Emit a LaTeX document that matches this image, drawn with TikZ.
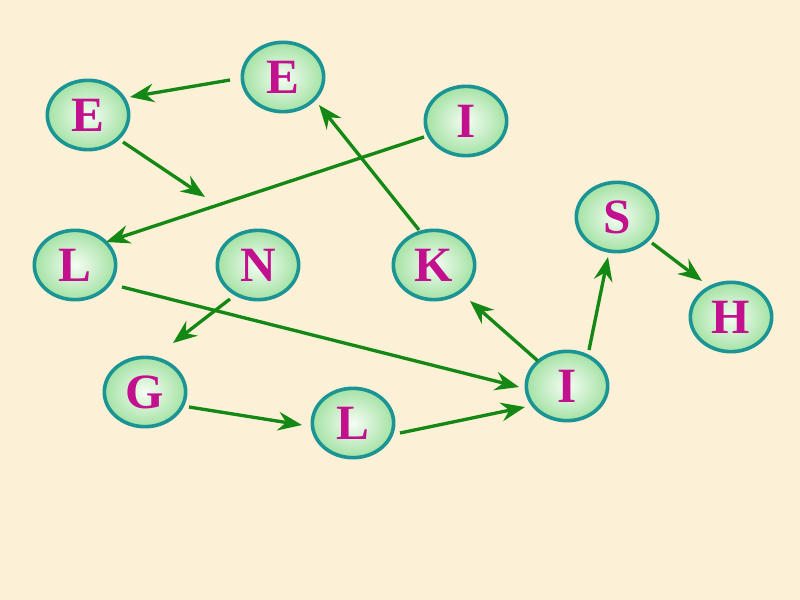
\documentclass[tikz,border=0pt]{standalone}
\usepackage{fontspec}
\setmainfont{Liberation Serif}
\usetikzlibrary{arrows.meta,calc,shapes.geometric}
\definecolor{bgcream}{HTML}{FCF0D6}
\definecolor{arrgreen}{HTML}{148814}
\definecolor{rimteal}{HTML}{1A9494}
\definecolor{lettermag}{HTML}{C2108E}
\definecolor{fillgreen}{HTML}{A4E2A4}
\definecolor{fillwhite}{HTML}{F6FDF4}
\tikzset{
  letternode/.style={ellipse, draw=rimteal, line width=2.7pt,
    inner color=fillwhite, outer color=fillgreen,
    minimum width=61pt, minimum height=52pt, inner sep=0pt,
    text=lettermag, font=\fontsize{37}{37}\selectfont\bfseries},
  arr/.style={draw=arrgreen, line width=2.5pt,
    -{Stealth[length=18pt,width=14pt,inset=6pt]}}
}
\begin{document}
\begin{tikzpicture}[x=0.75pt,y=-0.75pt]
\fill[bgcream] (0,0) rectangle (800,600);
\useasboundingbox (0,0) rectangle (800,600);
\node[letternode] (E1) at (88,115) {E};
\node[letternode] (E2) at (283,77) {E};
\node[letternode] (I1) at (466,121) {I};
\node[letternode] (S)  at (617,217) {S};
\node[letternode] (H)  at (731,317) {H};
\node[letternode] (L1) at (75,265) {L};
\node[letternode] (N)  at (258,265) {N};
\node[letternode] (K)  at (434,265) {K};
\node[letternode] (G)  at (145,392) {G};
\node[letternode] (I2) at (567,386) {I};
\node[letternode] (L2) at (353,423) {L};
\coordinate (free) at (205,197);
\draw[arr] ($(E2)+(-53,3)$) -- ($(E1)+(42,-18)$);
\draw[arr] ($(E1)+(35,27)$) -- (free);
\draw[arr] ($(I1)+(-42,16)$) -- ($(L1)+(31,-23)$);
\draw[arr] ($(K)+(-15,-35)$) -- ($(E2)+(36,28)$);
\draw[arr] ($(L1)+(47,22)$) -- ($(I2)+(-48,1)$);
\draw[arr] ($(N)+(-28,34)$) -- ($(G)+(28,-49)$);
\draw[arr] ($(G)+(44,15)$) -- ($(L2)+(-51,2)$);
\draw[arr] ($(L2)+(47,10)$) -- ($(I2)+(-42,21)$);
\draw[arr] ($(I2)+(-29,-25)$) -- ($(K)+(36,36)$);
\draw[arr] ($(I2)+(22,-36)$) -- ($(S)+(-9,40)$);
\draw[arr] ($(S)+(35,26)$) -- ($(H)+(-29,-36)$);
\end{tikzpicture}
\end{document}
